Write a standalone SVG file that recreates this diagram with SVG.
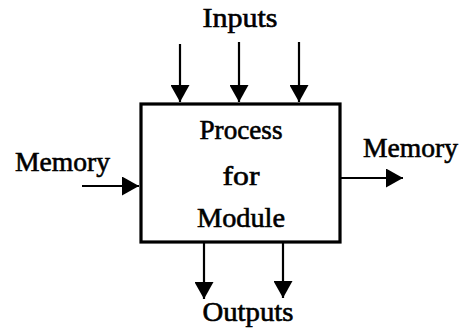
<svg xmlns="http://www.w3.org/2000/svg" width="465" height="336" viewBox="0 0 465 336">
<style>
text{font-family:"Liberation Serif","DejaVu Serif",serif;font-size:27px;fill:#000;stroke:#000;stroke-width:0.6;}
.c{text-anchor:middle;}
.ln{stroke:#000;stroke-width:2.2;fill:none;}
.box{stroke:#000;stroke-width:3.2;fill:#fff;}
</style>
<defs>
<marker id="ah" viewBox="0 0 17 19" refX="17" refY="9.5" markerWidth="17" markerHeight="19" markerUnits="userSpaceOnUse" orient="auto">
<path d="M0,0 L17,9.5 L0,19 Z" fill="#000"/>
</marker>
</defs>
<g id="connectors">
<line class="ln" x1="180" y1="44" x2="180" y2="102" marker-end="url(#ah)"/>
<line class="ln" x1="239" y1="42" x2="239" y2="102" marker-end="url(#ah)"/>
<line class="ln" x1="299" y1="42" x2="299" y2="102" marker-end="url(#ah)"/>
<line class="ln" x1="82" y1="186" x2="139" y2="186" marker-end="url(#ah)"/>
<line class="ln" x1="341" y1="178" x2="403" y2="178" marker-end="url(#ah)"/>
<line class="ln" x1="204" y1="243" x2="204" y2="299" marker-end="url(#ah)"/>
<line class="ln" x1="283" y1="243" x2="283" y2="298" marker-end="url(#ah)"/>
</g>
<g id="process">
<rect class="box" x="141" y="104" width="199" height="138"/>
<text class="c" x="241" y="139" textLength="83" lengthAdjust="spacingAndGlyphs">Process</text>
<text class="c" x="241" y="185" textLength="37" lengthAdjust="spacingAndGlyphs">for</text>
<text class="c" x="241" y="227" textLength="88" lengthAdjust="spacingAndGlyphs">Module</text>
</g>
<g id="inputs-label"><text class="c" x="240" y="27" textLength="75" lengthAdjust="spacingAndGlyphs">Inputs</text></g>
<g id="memory-in-label"><text x="15" y="171" textLength="95" lengthAdjust="spacingAndGlyphs">Memory</text></g>
<g id="memory-out-label"><text x="363" y="157" textLength="95" lengthAdjust="spacingAndGlyphs">Memory</text></g>
<g id="outputs-label"><text class="c" x="248" y="321" textLength="91" lengthAdjust="spacingAndGlyphs">Outputs</text></g>
</svg>
